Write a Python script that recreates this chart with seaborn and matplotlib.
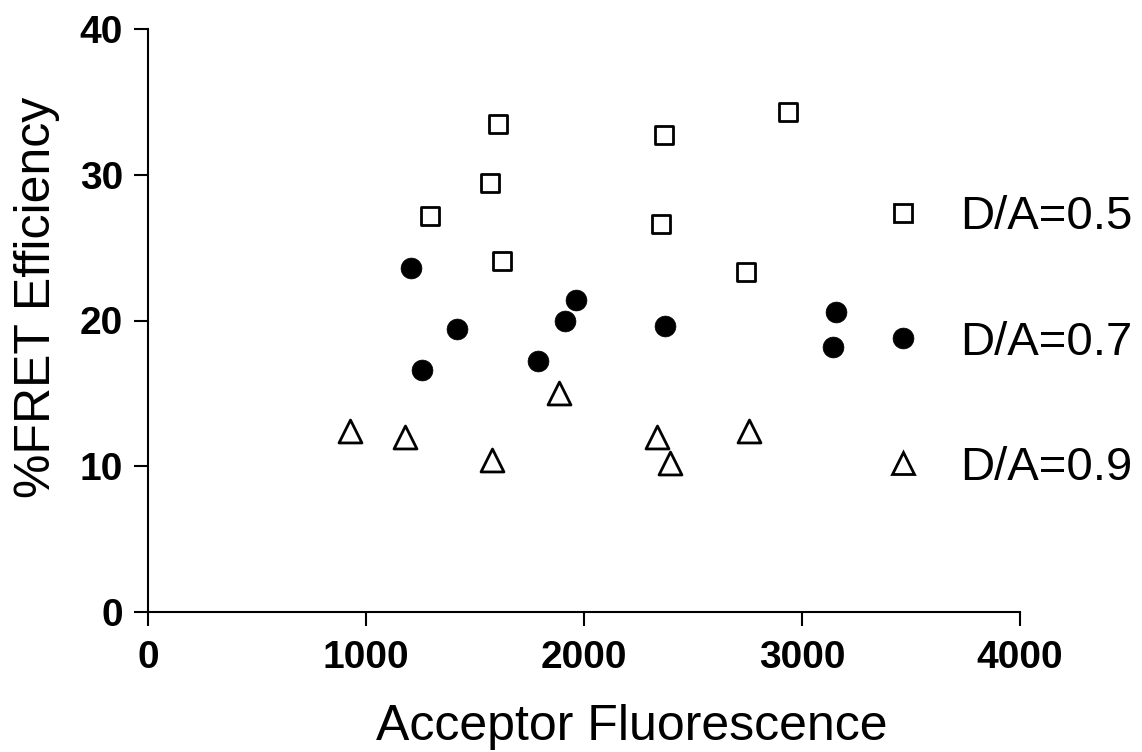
import numpy as np
import pandas as pd
import matplotlib
matplotlib.use("Agg")
import matplotlib.pyplot as plt
import seaborn as sns
from matplotlib.lines import Line2D

# Acceptor fluorescence (x) and FRET efficiency in % (y) per donor/acceptor ratio
acc_05 = [1294, 1569, 1606, 1624, 2353, 2367, 2743, 2936]
fret_05 = [27.2, 29.4, 33.5, 24.1, 26.6, 32.7, 23.3, 34.3]

acc_07 = [1205, 1259, 1419, 1791, 1912, 1964, 2370, 3156, 3143]
fret_07 = [23.6, 16.6, 19.4, 17.2, 20.0, 21.4, 19.6, 20.6, 18.2]

acc_09 = [925, 1178, 1580, 1886, 2336, 2394, 2755]
fret_09 = [12.4, 12.0, 10.4, 15.0, 12.0, 10.2, 12.4]

series_labels = ["D/A=0.5", "D/A=0.7", "D/A=0.9"]
x_ticks = [0, 1000, 2000, 3000, 4000]
y_ticks = [0, 10, 20, 30, 40]

sns.set_style("ticks")
plt.rcParams["font.family"] = ["Liberation Sans", "DejaVu Sans"]
for key in ["text.color", "axes.labelcolor", "xtick.color", "ytick.color", "axes.edgecolor"]:
    plt.rcParams[key] = "black"

fig = plt.figure(figsize=(11.42, 7.52), dpi=100)
ax = fig.add_axes([148 / 1142, 1 - 612 / 752, (1020 - 148) / 1142, (612 - 29) / 752])

styles = [
    dict(marker="s", s=13.0 ** 2, facecolor="white", edgecolor="black", linewidth=2.0),
    dict(marker="o", s=15.0 ** 2, facecolor="black", edgecolor="black", linewidth=0.5),
    dict(marker="^", s=16.5 ** 2, facecolor="white", edgecolor="black", linewidth=2.0),
]
data = [(acc_05, fret_05), (acc_07, fret_07), (acc_09, fret_09)]

for (xs, ys), st in zip(data, styles):
    df = pd.DataFrame({"Acceptor Fluorescence": xs, "%FRET Efficiency": ys})
    sns.scatterplot(data=df, x="Acceptor Fluorescence", y="%FRET Efficiency",
                    ax=ax, legend=False, zorder=3, **st)

ax.set_xlim(0, 4000)
ax.set_ylim(0, 40)
ax.set_xticks(x_ticks)
ax.set_yticks(y_ticks)
ax.set_xticklabels([str(t) for t in x_ticks], fontsize=28, fontweight="bold")
ax.set_yticklabels([str(t) for t in y_ticks], fontsize=28, fontweight="bold")
ax.tick_params(axis="both", direction="out", length=10, width=1.5, color="black")
ax.tick_params(axis="x", pad=10)
ax.tick_params(axis="y", pad=8)
for side in ["top", "right"]:
    ax.spines[side].set_visible(False)
for side in ["left", "bottom"]:
    ax.spines[side].set_linewidth(1.5)
    ax.spines[side].set_color("black")

ax.set_xlabel("Acceptor Fluorescence", fontsize=36)
ax.set_ylabel("%FRET Efficiency", fontsize=36)
ax.xaxis.set_label_coords(0.555, -0.158)
ax.yaxis.set_label_coords(-0.101, 0.54)

handles = [
    Line2D([], [], linestyle="none", marker="s", markersize=13, markerfacecolor="white",
           markeredgecolor="black", markeredgewidth=2.0),
    Line2D([], [], linestyle="none", marker="o", markersize=15, markerfacecolor="black",
           markeredgecolor="black", markeredgewidth=0.5),
    Line2D([], [], linestyle="none", marker="^", markersize=16.5, markerfacecolor="white",
           markeredgecolor="black", markeredgewidth=2.0),
]
leg = ax.legend(handles, series_labels, loc="center left", bbox_to_anchor=(0.839, 0.462),
                frameon=False, fontsize=34, labelspacing=1.72, handletextpad=0.71,
                handlelength=1.0, borderaxespad=0, borderpad=0)

fig.savefig("out.png", dpi=100, facecolor="white")
